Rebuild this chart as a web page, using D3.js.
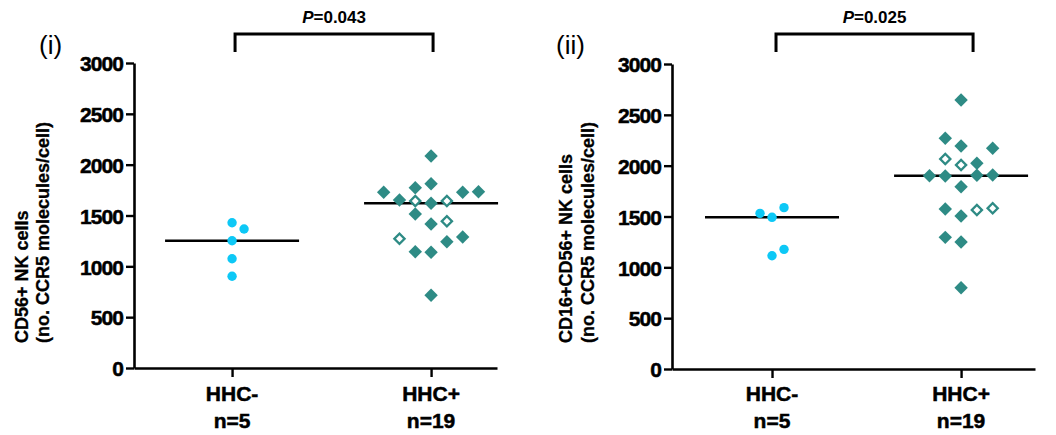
<!DOCTYPE html>
<html>
<head>
<meta charset="utf-8">
<script src="https://cdn.jsdelivr.net/npm/d3@7"></script>
<style>
  body { margin: 0; background: #fff; }
  svg text { font-family: "Liberation Sans", Arial, sans-serif; }
  .heavy { stroke: #000; stroke-width: 0.5px; }
</style>
</head>
<body>
<div id="chart"></div>
<script>
// ---- data ----
const groups = ["HHC-", "HHC+"];
const groupN = ["n=5", "n=19"];
const yTicks = [0, 500, 1000, 1500, 2000, 2500, 3000];

// panel (i) CD56+ NK cells
const p1NegValues = [1429, 1367, 1252, 1075, 902];
const p1NegSlots = [0, 1, 0, 0, 0];
const p1PosValues = [2085, 1728, 1773, 1813, 1728, 1734, 1652, 1620, 1515, 1416, 1242, 1288, 1144, 1138, 715, 1642, 1642, 1443, 1272];
const p1PosSlots = [0, -3, -1, 0, 2, 3, -2, 0, -1, 0, 1, 2, -1, 0, 0, -1, 1, 1, -2];
const p1PosOpen = [0, 0, 0, 0, 0, 0, 0, 0, 0, 0, 0, 0, 0, 0, 0, 1, 1, 1, 1];

// panel (ii) CD16+CD56+ NK cells
const p2NegValues = [1531, 1492, 1587, 1177, 1114];
const p2NegSlots = [-1, 0, 1, 1, 0];
const p2PosValues = [2646, 2269, 2193, 2171, 2023, 1901, 1898, 1905, 1908, 1793, 1574, 1505, 1295, 1249, 800, 2066, 2007, 1564, 1581];
const p2PosSlots = [0, -1, 0, 2, 1, -2, -1, 1, 2, 0, -1, 0, -1, 0, 0, -1, 0, 1, 2];
const p2PosOpen = [0, 0, 0, 0, 0, 0, 0, 0, 0, 0, 0, 0, 0, 0, 0, 1, 1, 1, 1];

const cyan = "#0dc8f6";
const teal = "#2e8b85";

const panels = [
  {
    tag: "(i)", pText: "=0.043",
    title: ["CD56+ NK cells", "(no. CCR5 molecules/cell)"],
    neg: { values: p1NegValues, slots: p1NegSlots },
    pos: { values: p1PosValues, slots: p1PosSlots, open: p1PosOpen },
    left: 134, right: 497, top: 63, bottom: 368,
    padding: 0.412, align: 0.598,
    titleX: [28, 49], tagX: 39,
    bracket: [3, 2]
  },
  {
    tag: "(ii)", pText: "=0.025",
    title: ["CD16+CD56+ NK cells", "(no. CCR5 molecules/cell)"],
    neg: { values: p2NegValues, slots: p2NegSlots },
    pos: { values: p2PosValues, slots: p2PosSlots, open: p2PosOpen },
    left: 672, right: 1035, top: 64, bottom: 369,
    padding: 0.46, align: 0.575,
    titleX: [572, 594], tagX: 556,
    bracket: [4, 12]
  }
];

const svg = d3.select("#chart").append("svg")
  .attr("width", 1056)
  .attr("height", 435);

svg.append("rect").attr("width", 1056).attr("height", 435).attr("fill", "#fff");

const circleSlot = d3.scaleLinear().domain([-1, 1]).range([-12, 12]);
const diamondSlot = d3.scaleLinear().domain([-3, 3]).range([-47.4, 47.4]);
const filledDiamond = d3.symbol().type(d3.symbolSquare).size(90);
const openDiamond = d3.symbol().type(d3.symbolSquare).size(52);

panels.forEach(function (p) {
  let g = svg.append("g");

  let y = d3.scaleLinear().domain([0, 3000]).range([p.bottom, p.top]);
  let x = d3.scalePoint().domain(groups)
    .range([p.left, p.right])
    .padding(p.padding)
    .align(p.align);

  // y axis
  let yAxis = g.append("g")
    .attr("transform", "translate(" + p.left + ",0)")
    .call(d3.axisLeft(y).tickValues(yTicks).tickFormat(d3.format("d"))
      .tickSize(8).tickSizeOuter(0).tickPadding(3));
  yAxis.select(".domain").attr("stroke", "#000").attr("stroke-width", 2.6);
  yAxis.selectAll(".tick line").attr("stroke", "#000").attr("stroke-width", 2.4);
  yAxis.selectAll(".tick text")
    .attr("class", "heavy")
    .attr("font-size", "21px")
    .attr("font-weight", "bold")
    .attr("fill", "#000")
    .attr("dy", "0.37em")
    .style("letter-spacing", "-0.9px");

  // x axis
  let xAxis = g.append("g")
    .attr("transform", "translate(0," + p.bottom + ")")
    .call(d3.axisBottom(x).tickSize(9).tickSizeOuter(0).tickFormat(""));
  xAxis.select(".domain").attr("stroke", "#000").attr("stroke-width", 2.6);
  xAxis.selectAll(".tick line").attr("stroke", "#000").attr("stroke-width", 2.4);

  // category labels
  groups.forEach(function (name, i) {
    g.append("text")
      .attr("class", "heavy")
      .attr("x", x(name))
      .attr("y", 401)
      .attr("text-anchor", "middle")
      .attr("font-size", "21px")
      .attr("font-weight", "bold")
      .text(name);
    g.append("text")
      .attr("class", "heavy")
      .attr("x", x(name))
      .attr("y", 428)
      .attr("text-anchor", "middle")
      .attr("font-size", "21px")
      .attr("font-weight", "bold")
      .text(groupN[i]);
  });

  // y title
  p.title.forEach(function (line, i) {
    g.append("text")
      .attr("class", "heavy")
      .attr("transform", "translate(" + p.titleX[i] + ",343) rotate(-90)")
      .attr("text-anchor", "start")
      .attr("font-size", "18px")
      .attr("font-weight", "bold")
      .style("stroke-width", "0.3px")
      .text(line);
  });

  // panel tag
  g.append("text")
    .attr("x", p.tagX)
    .attr("y", 54)
    .attr("font-size", "26px")
    .text(p.tag);

  // significance bracket
  let bx0 = x(groups[0]) + p.bracket[0];
  let bx1 = x(groups[1]) + p.bracket[1];
  g.append("path")
    .attr("d", "M" + bx0 + ",52V34H" + bx1 + "V52")
    .attr("fill", "none")
    .attr("stroke", "#000")
    .attr("stroke-width", 3);
  let pt = g.append("text")
    .attr("x", (bx0 + bx1) / 2)
    .attr("y", 23)
    .attr("text-anchor", "middle")
    .attr("font-size", "17px")
    .attr("font-weight", "bold");
  pt.append("tspan").attr("font-style", "italic").text("P");
  pt.append("tspan").text(p.pText);

  // median lines
  [p.neg.values, p.pos.values].forEach(function (vals, i) {
    let m = d3.median(vals);
    g.append("line")
      .attr("x1", x(groups[i]) - 67)
      .attr("x2", x(groups[i]) + 67)
      .attr("y1", y(m))
      .attr("y2", y(m))
      .attr("stroke", "#000")
      .attr("stroke-width", 2.6);
  });

  // HHC- dots
  g.selectAll("circle.neg")
    .data(p.neg.values)
    .enter().append("circle")
    .attr("class", "neg")
    .attr("cx", function (d, i) { return x(groups[0]) + circleSlot(p.neg.slots[i]); })
    .attr("cy", function (d) { return y(d); })
    .attr("r", 4.7)
    .attr("fill", cyan);

  // HHC+ diamonds
  g.selectAll("path.pos")
    .data(p.pos.values)
    .enter().append("path")
    .attr("class", "pos")
    .attr("d", function (d, i) { return p.pos.open[i] ? openDiamond() : filledDiamond(); })
    .attr("transform", function (d, i) {
      return "translate(" + (x(groups[1]) + diamondSlot(p.pos.slots[i])) + "," + y(d) + ") rotate(45)";
    })
    .attr("fill", function (d, i) { return p.pos.open[i] ? "#fff" : teal; })
    .attr("stroke", function (d, i) { return p.pos.open[i] ? teal : "none"; })
    .attr("stroke-width", 2.3);
});
</script>
</body>
</html>
